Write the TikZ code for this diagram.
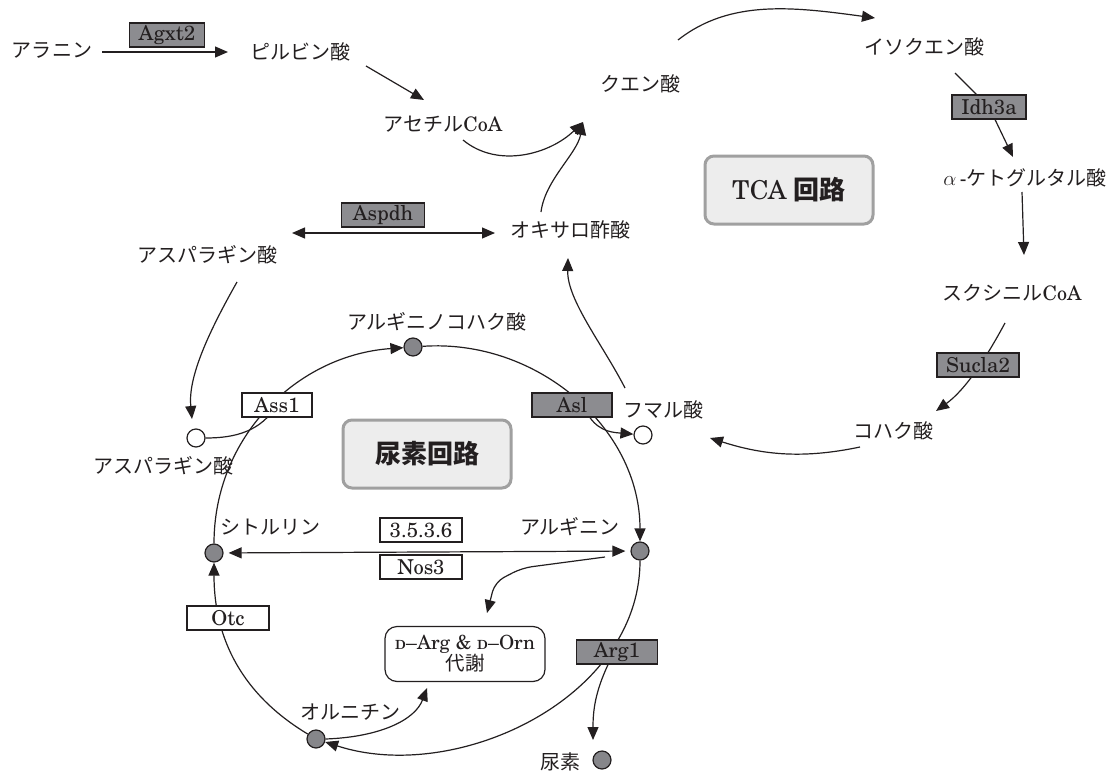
\documentclass[tikz,border=0pt]{standalone}
\usepackage{fontspec}
\setmainfont{texgyreschola}[Extension=.otf, UprightFont=*-regular, BoldFont=*-bold, ItalicFont=*-italic, BoldItalicFont=*-bolditalic]
\newfontfamily\cjk{Noto Sans CJK JP}
\usetikzlibrary{arrows.meta,calc}
\pgfdeclarelayer{bg}
\pgfsetlayers{bg,main}
\definecolor{ink}{HTML}{231F20}
\definecolor{egray}{HTML}{8C8C90}
\definecolor{cgray}{HTML}{86868A}
\definecolor{tborder}{HTML}{A0A0A0}
\definecolor{tfill}{HTML}{EDEDED}
\begin{document}
\begin{tikzpicture}[x=1pt,y=1pt,
  lbl/.style={font=\cjk\fontsize{20}{22}\selectfont, inner sep=0pt, text=ink},
  enz/.style={draw=ink, line width=1.3pt, fill=egray, inner sep=0pt, minimum height=24pt,
              font=\fontsize{20.5}{21}\selectfont, text=ink},
  wenz/.style={enz, fill=white},
  met/.style={circle, draw=ink, line width=1.2pt, fill=cgray, minimum size=18pt, inner sep=0pt},
  wmet/.style={met, fill=white},
  title/.style={draw=tborder, line width=3pt, fill=tfill, rounded corners=9pt,
                minimum width=168pt, minimum height=68pt, text=ink},
  dbox/.style={draw=ink, line width=1.2pt, rounded corners=12pt, minimum width=160pt,
               minimum height=55pt, inner sep=2pt, align=center, font=\fontsize{19.5}{21}\selectfont, text=ink},
  arr/.style={-{Triangle[length=13pt,width=11pt]}, line width=1.2pt, draw=ink},
  darr/.style={{Triangle[length=13pt,width=11pt]}-{Triangle[length=13pt,width=11pt]}, line width=1.2pt, draw=ink},
  ln/.style={line width=1.2pt, draw=ink}]
\useasboundingbox (0,0) rectangle (1110,-773);

% ---- TCA side ----
\node[lbl] (ala) at (52,-50) {アラニン};
\node[enz, minimum width=75pt] (agxt) at (167,-35) {Agxt2};
\node[lbl] (pyr) at (300,-52) {ピルビン酸};
\node[lbl] (acoa) at (443,-124) {アセチル{\rmfamily CoA}};
\node[lbl] (cit) at (640,-84) {クエン酸};
\node[lbl] (icit) at (924,-47) {イソクエン酸};
\node[enz, minimum width=74pt] (idh) at (989,-107) {Idh3a};
\node[lbl] (akg) at (1025,-178) {{\rmfamily$\alpha$\,-}ケトグルタル酸};
\node[lbl] (scoa) at (1012,-293) {スクシニル{\rmfamily CoA}};
\node[enz, minimum width=82pt] (sucla) at (978,-365) {Sucla2};
\node[lbl] (succ) at (893,-431) {コハク酸};
\node[lbl] (fum) at (663,-410) {フマル酸};
\node[lbl] (oaa) at (570,-230) {オキサロ酢酸};
\node[enz, minimum width=83pt] (aspdh) at (383,-215) {Aspdh};
\node[lbl] (asp1) at (207,-255) {アスパラギン酸};
\node[title, font=\fontsize{26}{28}\selectfont] (tca) at (789,-190) {TCA {\cjk\bfseries 回路}};

% ---- urea cycle ----
\node[title, font=\cjk\bfseries\fontsize{26}{28}\selectfont] (urea) at (427,-454) {尿素回路};
\node[lbl] (asal) at (437,-322) {アルギニノコハク酸};
\node[met] (asac) at (413,-347) {};
\node[wenz, minimum width=70pt] (ass1) at (277,-405) {Ass1};
\node[enz, minimum width=80pt] (asl) at (572,-405) {Asl};
\node[wmet] (fumc) at (643,-435) {};
\node[wmet] (aspc) at (196,-438) {};
\node[lbl] (asp2) at (163,-466) {アスパラギン酸};
\node[met] (citc) at (214,-553) {};
\node[lbl] (citl) at (270,-527) {シトルリン};
\node[met] (argc) at (640,-551) {};
\node[lbl] (argl) at (570,-527) {アルギニン};
\node[wenz, minimum width=82pt] (ec) at (421,-530) {3.5.3.6};
\node[wenz, minimum width=82pt] (nos) at (421,-567) {Nos3};
\node[wenz, minimum width=82pt] (otc) at (228,-618) {Otc};
\node[dbox] (darg) at (465,-654) {\textsc{d}--Arg \& \textsc{d}--Orn\\{\cjk 代謝}};
\node[met] (ornc) at (316,-739) {};
\node[lbl] (ornl) at (350,-712) {オルニチン};
\node[enz, minimum width=81pt] (arg1) at (617,-652) {Arg1};
\node[met] (ureac) at (602,-760) {};
\node[lbl] (ureal) at (560,-762) {尿素};

\begin{pgfonlayer}{bg}
\draw[arr] ($(ala)+(50,-2)$) -- ($(pyr)+(-72,0)$);
\draw[arr] ($(pyr)+(66,-14)$) -- ($(acoa)+(-19,24)$);
\draw[arr] ($(acoa)+(20,-16)$) .. controls ($(acoa)+(55,-45)$) and ($(cit)+(-90,-70)$) .. ($(cit)+(-57,-38)$);
\draw[arr] ($(oaa)+(-29,18)$) .. controls ($(oaa)+(-25,50)$) and ($(cit)+(-63,-70)$) .. ($(cit)+(-57,-38)$);
\draw[arr] ($(cit)+(38,44)$) .. controls ($(cit)+(90,85)$) and ($(icit)+(-130,40)$) .. ($(icit)+(-49,29)$);
\draw[ln] ($(icit)+(31,-26)$) -- (idh.center);
\draw[arr] (idh.center) -- ($(akg)+(-12,21)$);
\draw[arr] ($(akg)+(-3,-14)$) -- ($(scoa)+(12,38)$);
\draw[arr] ($(scoa)+(-7,-30)$) .. controls ($(sucla)+(7,5)$) and ($(sucla)+(-13,-25)$) .. ($(succ)+(43,20)$);
\draw[arr] ($(succ)+(-33,-16)$) .. controls ($(succ)+(-90,-28)$) and ($(fum)+(100,-45)$) .. ($(fum)+(47,-28)$);
\draw[arr] ($(fum)+(-38,22)$) .. controls ($(fum)+(-60,65)$) and ($(oaa)+(-3,-70)$) .. ($(oaa)+(-2,-28)$);
\draw[darr] ($(asp1)+(85,22)$) -- ($(oaa)+(-75,-3)$);
\draw[arr] ($(asp1)+(30,-27)$) .. controls ($(asp1)+(0,-80)$) and ($(aspc)+(-8,60)$) .. ($(aspc)+(-4,19)$);
% cycle
\draw[arr] (citc) to[out=90,in=184] (asac);
\draw[arr] (asac) to[out=4,in=90] (argc);
\draw[arr] (argc) to[out=-90,in=-18,looseness=0.97] (ornc);
\draw[arr] (ornc) to[out=149,in=-90] (citc);
% branches
\draw[ln] (aspc) to[out=0,in=238] (ass1.center);
\draw[arr] ($(asl.south)+(18,0)$) to[out=-55,in=175] (fumc);
\draw[arr] ($(arg1.south)+(-9,0)$) to[out=-115,in=90] ($(ureac)+(-9,20)$);
\draw[arr, rounded corners=10pt] ($(argc)+(-35,-6)$) -- ($(darg)+(57,86)$) -- ($(darg)+(30,72)$) -- ($(darg)+(22,41)$);
\draw[arr] (ornc.east) .. controls ($(ornc)+(64,2)$) and ($(darg)+(-50,-66)$) .. ($(darg)+(-38,-34)$);
\draw[darr, shorten <=5pt, shorten >=5pt] (citc) -- (argc);
\end{pgfonlayer}
\end{tikzpicture}
\end{document}
